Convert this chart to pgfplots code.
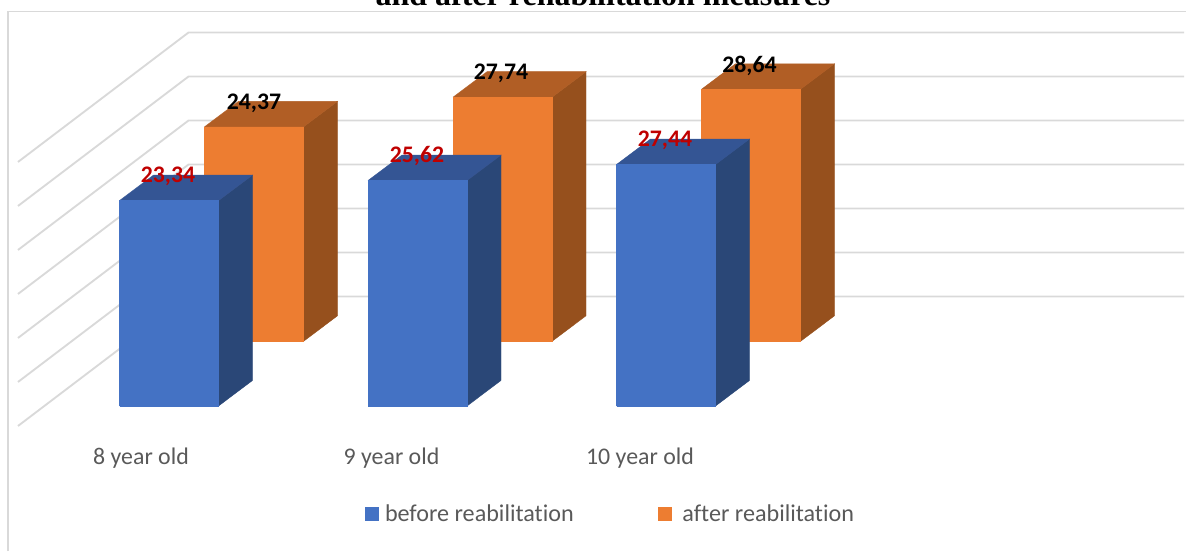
\documentclass[border=0pt]{standalone}
\usepackage{pgfplots}
\pgfplotsset{compat=1.18}
\usepackage{fontspec}
\setmainfont[Ligatures=NoCommon]{Carlito}
\newfontfamily\titlefont{Liberation Serif}

\definecolor{gridgrey}{HTML}{D9D9D9}
\definecolor{labelgrey}{HTML}{595959}
\definecolor{blueFront}{HTML}{4472C4}
\definecolor{blueSide}{HTML}{2A4777}
\definecolor{blueTop}{HTML}{345594}
\definecolor{orangeFront}{HTML}{ED7D31}
\definecolor{orangeSide}{HTML}{96501D}
\definecolor{orangeTop}{HTML}{B15E25}

% One 3D column: left edge, floor level, value, colour stem.
% Bars are 99 units wide; the depth runs 34 units right and 2.9 value units up.
\newcommand{\column}[4]{%
  \pgfmathsetmacro\xa{#1}%
  \pgfmathsetmacro\xb{#1+99}%
  \pgfmathsetmacro\xc{#1+99+34}%
  \pgfmathsetmacro\xd{#1+34}%
  \pgfmathsetmacro\ya{#2}%
  \pgfmathsetmacro\yb{#2+2.9}%
  \pgfmathsetmacro\yc{#2+#3}%
  \pgfmathsetmacro\yd{#2+#3+2.9}%
  \edef\faces{%
    \noexpand\addplot[forget plot,fill=#4Side,draw=#4Side,line width=0.3pt]
      coordinates {(\xb,\ya)(\xc,\yb)(\xc,\yd)(\xb,\yc)(\xb,\ya)};
    \noexpand\addplot[forget plot,fill=#4Top,draw=#4Top,line width=0.3pt]
      coordinates {(\xa,\yc)(\xb,\yc)(\xc,\yd)(\xd,\yd)(\xa,\yc)};
    \noexpand\addplot[forget plot,fill=#4Front,draw=#4Front,line width=0.3pt]
      coordinates {(\xa,\ya)(\xb,\ya)(\xb,\yc)(\xa,\yc)(\xa,\ya)};
  }%
  \faces
}

\begin{document}
\begin{tikzpicture}
\path[use as bounding box,clip] (0,0) rectangle (889.5pt,413.25pt);
\begin{axis}[
  scale only axis,
  width=889.5pt,
  height=413.25pt,
  xmin=0, xmax=1186,
  ymin=-16.477, ymax=46.136,
  clip=false,
  axis line style={draw=none},
  major tick length=0pt,
  ytick=\empty,
  xtick={141,391.5,640},
  xticklabels={8 year old,9 year old,10 year old},
  xticklabel style={font=\fontsize{17.9}{20}\selectfont,text=labelgrey,anchor=base,yshift=65pt},
  legend style={
    at={(axis cs:365,-12.3)},anchor=west,draw=none,fill=none,
    font=\fontsize{18.1}{20}\selectfont,text=labelgrey,
    legend columns=2,inner sep=0pt,
    /tikz/every even column/.append style={column sep=61pt},
  },
  legend cell align=left,
  legend image code/.code={\fill[#1] (0pt,-5.25pt) rectangle (10.5pt,5.25pt);},
]
% chart frame
\addplot[forget plot,gridgrey,line width=1.4pt] coordinates {(8,-16.477)(8,44.83)(1186,44.83)};

% floor-to-back gridlines, one per 5 units
\addplot[forget plot,gridgrey,line width=1.4pt] coordinates {(18,-2.27)(188.5,12.44)(1184,12.44)};
\addplot[forget plot,gridgrey,line width=1.4pt] coordinates {(18,2.73)(188.5,17.44)(1184,17.44)};
\addplot[forget plot,gridgrey,line width=1.4pt] coordinates {(18,7.73)(188.5,22.44)(1184,22.44)};
\addplot[forget plot,gridgrey,line width=1.4pt] coordinates {(18,12.73)(188.5,27.44)(1184,27.44)};
\addplot[forget plot,gridgrey,line width=1.4pt] coordinates {(18,17.73)(188.5,32.44)(1184,32.44)};
\addplot[forget plot,gridgrey,line width=1.4pt] coordinates {(18,22.73)(188.5,37.44)(1184,37.44)};
\addplot[forget plot,gridgrey,line width=1.4pt] coordinates {(18,27.73)(188.5,42.44)(1184,42.44)};

% back row: after rehabilitation
\column{204.5}{7.35}{24.37}{orange}
\column{453}{7.35}{27.74}{orange}
\column{701.5}{7.35}{28.64}{orange}
% front row: before rehabilitation
\column{119.5}{0}{23.34}{blue}
\column{368}{0}{25.62}{blue}
\column{616.5}{0}{27.44}{blue}

% value labels printed from the plotted numbers
\pgfplotsset{every axis plot post/.append style={
  /pgf/number format/.cd,fixed,fixed zerofill,precision=2,use comma,assume math mode=true}}
\addplot[forget plot,draw=none,point meta=y,nodes near coords,
  every node near coord/.append style={anchor=center,yshift=66.3pt,text=black,
    font=\fontsize{17.8}{20}\selectfont\bfseries}]
  coordinates {(254,24.37)(501,27.74)(749.5,28.64)};
\addplot[forget plot,draw=none,point meta=y,nodes near coords,
  every node near coord/.append style={anchor=center,yshift=18.4pt,text=red!75!black,
    font=\fontsize{17.8}{20}\selectfont\bfseries}]
  coordinates {(168,23.34)(417,25.62)(665,27.44)};

\addlegendimage{fill=blueFront,draw=none}
\addlegendentry{\hspace{2.3pt}before reabilitation}
\addlegendimage{fill=orangeFront,draw=none}
\addlegendentry{\hspace{6pt}after reabilitation}

\node[anchor=base,font=\fontsize{24}{26}\selectfont\titlefont\bfseries] at (axis cs:603,45.55)
  {and after rehabilitation measures};
\end{axis}
\end{tikzpicture}
\end{document}
